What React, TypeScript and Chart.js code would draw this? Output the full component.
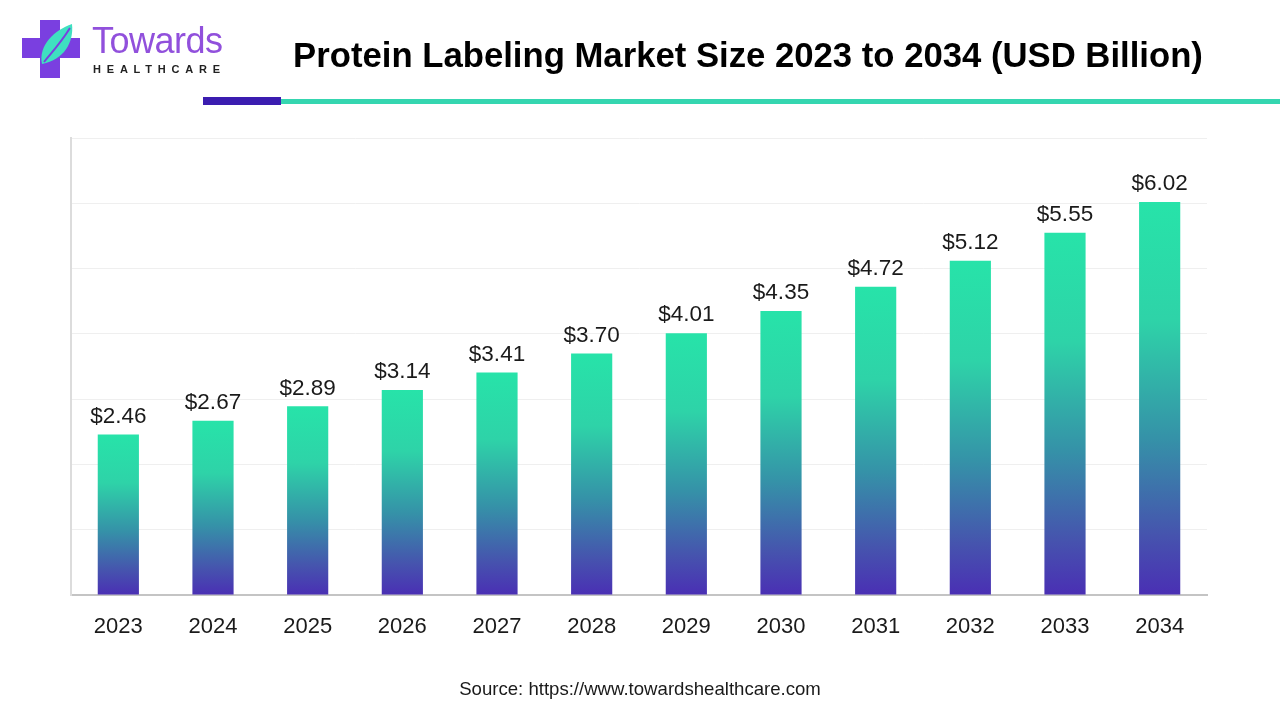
import React, { useEffect, useRef } from "react";
import { Chart, registerables } from "chart.js";

Chart.register(...registerables);

const years = ["2023", "2024", "2025", "2026", "2027", "2028", "2029", "2030", "2031", "2032", "2033", "2034"];
const marketSize = [2.46, 2.67, 2.89, 3.14, 3.41, 3.7, 4.01, 4.35, 4.72, 5.12, 5.55, 6.02];
const yMin = 0;
const yMax = 7;
const yStep = 1;

const FONT = "'Liberation Sans', Arial, sans-serif";

const valueLabelPlugin = {
  id: "valueLabels",
  afterDatasetsDraw(chart: any) {
    const ctx = chart.ctx;
    const meta = chart.getDatasetMeta(0);
    ctx.save();
    ctx.font = `22.5px ${FONT}`;
    ctx.fillStyle = "#1a1a1a";
    ctx.textAlign = "center";
    ctx.textBaseline = "middle";
    meta.data.forEach((bar: any, i: number) => {
      const v = chart.data.datasets[0].data[i] as number;
      ctx.fillText("$" + v.toFixed(2), bar.x, bar.y - 18);
    });
    ctx.restore();
  },
};

function Logo() {
  return (
    <div style={{ position: "absolute", left: 20, top: 18, width: 220, height: 64 }}>
      <svg width="62" height="62" viewBox="0 0 62 62" style={{ position: "absolute", left: 0, top: 0 }}>
        <rect x="20" y="2" width="20" height="58" fill="#7a3fe0" />
        <rect x="2" y="20" width="58" height="20" fill="#7a3fe0" />
        <path d="M22 46 C 18 28, 34 12, 52 6 C 54 24, 44 42, 22 46 Z" fill="#3fe0c0" />
        <path d="M24 44 C 32 34, 40 26, 50 10" stroke="#7a3fe0" strokeWidth="2" fill="none" />
      </svg>
      <div
        style={{
          position: "absolute",
          left: 72,
          top: 3,
          fontFamily: FONT,
          fontSize: 36,
          color: "#9150dc",
          lineHeight: "40px",
          letterSpacing: "-0.5px",
        }}
      >
        Towards
      </div>
      <div
        style={{
          position: "absolute",
          left: 73,
          top: 45,
          fontFamily: FONT,
          fontWeight: 700,
          fontSize: 11,
          color: "#222",
          letterSpacing: "5.8px",
          lineHeight: "12px",
        }}
      >
        HEALTHCARE
      </div>
    </div>
  );
}

export default function App() {
  const canvasRef = useRef<HTMLCanvasElement | null>(null);

  useEffect(() => {
    document.body.style.margin = "0";
    const canvas = canvasRef.current;
    if (!canvas) return;
    const chart = new Chart(canvas, {
      type: "bar",
      data: {
        labels: years,
        datasets: [
          {
            data: marketSize,
            barPercentage: 0.435,
            categoryPercentage: 1,
            backgroundColor: (ctx: any) => {
              const c = ctx.chart;
              const ys = c.scales?.y;
              if (!c.chartArea || !ys || ctx.raw == null) return "#2ae0a8";
              const top = ys.getPixelForValue(ctx.raw);
              const bottom = ys.getPixelForValue(0);
              if (!isFinite(top) || !isFinite(bottom) || top === bottom) return "#2ae0a8";
              const g = c.ctx.createLinearGradient(0, top, 0, bottom);
              g.addColorStop(0, "#27e3a9");
              g.addColorStop(0.3, "#2ed3a8");
              g.addColorStop(0.6, "#3592a8");
              g.addColorStop(0.85, "#4653ae");
              g.addColorStop(1, "#4a2fb4");
              return g;
            },
            borderWidth: 0,
          },
        ],
      },
      options: {
        animation: false,
        responsive: false,
        maintainAspectRatio: false,
        devicePixelRatio: 1,
        layout: { padding: { left: 71, right: 73, top: 138, bottom: 70 } },
        plugins: {
          legend: { display: false },
          tooltip: { enabled: false },
          title: { display: false },
        },
        scales: {
          x: {
            grid: { display: false, drawTicks: false },
            border: { display: true, color: "#c4c4c4", width: 2 },
            ticks: {
              color: "#1a1a1a",
              font: { family: FONT, size: 22 },
              padding: 19,
            },
            afterFit: (scale: any) => {
              scale.height = 55;
            },
          },
          y: {
            min: yMin,
            max: yMax,
            ticks: { display: false, stepSize: yStep },
            grid: { color: "#efefef", lineWidth: 1, drawTicks: false },
            border: { display: true, color: "#dcdcdc", width: 2 },
            afterFit: (scale: any) => {
              scale.width = 0;
            },
          },
        },
      },
      plugins: [valueLabelPlugin],
    });
    return () => chart.destroy();
  }, []);

  return (
    <div style={{ position: "relative", width: 1280, height: 720, background: "#fff", overflow: "hidden" }}>
      <canvas ref={canvasRef} width={1280} height={720} style={{ position: "absolute", left: 0, top: 0 }} />
      <Logo />
      <div
        style={{
          position: "absolute",
          left: 290,
          top: 33,
          width: 916,
          textAlign: "center",
          fontFamily: FONT,
          fontWeight: 700,
          fontSize: 34.7,
          color: "#000",
          whiteSpace: "nowrap",
          lineHeight: "44px",
        }}
      >
        Protein Labeling Market Size 2023 to 2034 (USD Billion)
      </div>
      <div style={{ position: "absolute", left: 203, top: 97, width: 78, height: 8, background: "#3b1db0" }} />
      <div style={{ position: "absolute", left: 281, top: 99, width: 999, height: 5, background: "#35d6b0" }} />
      <div
        style={{
          position: "absolute",
          left: 0,
          width: 1280,
          top: 678,
          textAlign: "center",
          fontFamily: FONT,
          fontSize: 18.6,
          color: "#1a1a1a",
          lineHeight: "22px",
        }}
      >
        Source: https://www.towardshealthcare.com
      </div>
    </div>
  );
}
